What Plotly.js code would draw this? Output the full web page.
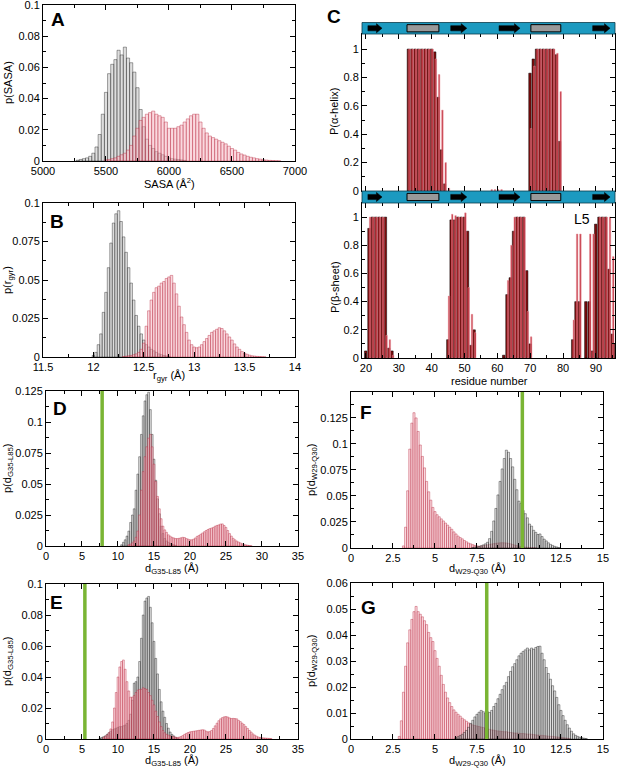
<!DOCTYPE html>
<html><head><meta charset="utf-8">
<script src="https://cdn.plot.ly/plotly-3.0.1.min.js"></script>
<style>html,body{margin:0;padding:0;background:#fff}#g{width:617px;height:769px}</style>
</head><body><div id="g"></div>
<script>
// ---------------- DATA ----------------
// Panel A: SASA histograms (bin start, bin width, probabilities)
const sasaBlackStart = 5275, sasaRedStart = 5500, sasaBin = 25;
const sasaBlack = [0.0005,0.001,0.0015,0.002,0.003,0.005,0.009,0.017,0.03,0.044,0.056,0.062,0.065,0.071,0.068,0.073,0.066,0.063,0.057,0.047,0.033,0.022,0.014,0.01,0.008,0.006,0.005,0.004,0.003,0.002,0.0015,0.0012,0.001,0.0007,0.0004];
const sasaRed = [0.0008,0.001,0.0015,0.002,0.003,0.004,0.005,0.007,0.01,0.016,0.021,0.026,0.028,0.03,0.031,0.032,0.03,0.029,0.028,0.025,0.021,0.021,0.021,0.022,0.023,0.025,0.027,0.029,0.03,0.03,0.025,0.021,0.018,0.016,0.015,0.014,0.013,0.012,0.011,0.0095,0.008,0.007,0.0055,0.0045,0.0038,0.003,0.0024,0.002,0.0015,0.0012,0.0008,0.0006,0.0004,0.0003,0.0002,0.0001];

// Panel B: radius of gyration
const rgBlackStart = 12.0, rgRedStart = 12.3, rgBin = 0.025;
const rgBlack = [0.001,0.003,0.008,0.015,0.029,0.042,0.058,0.074,0.087,0.093,0.095,0.088,0.078,0.068,0.058,0.048,0.037,0.027,0.02,0.015,0.011,0.008,0.0065,0.005,0.004,0.003,0.002,0.0015,0.001,0.0007,0.0004];
const rgRed = [0.0003,0.0005,0.0008,0.001,0.0015,0.002,0.003,0.005,0.009,0.02,0.03,0.037,0.042,0.045,0.046,0.048,0.049,0.051,0.052,0.053,0.048,0.041,0.033,0.026,0.021,0.016,0.011,0.008,0.0065,0.006,0.0065,0.008,0.01,0.012,0.014,0.016,0.017,0.018,0.019,0.0185,0.017,0.015,0.013,0.011,0.0085,0.0065,0.005,0.0035,0.0025,0.0018,0.0012,0.0008,0.0006,0.0004,0.0003,0.0002,0.0001];

// Panel C: secondary structure per residue
const helixResBlack = [33,34,35,36,37,38,39,40,41,42,43,44,70,71,72,73,74,75,76,77,78,79];
const helixBlack    = [1,1,1,1,1,1,1,1,0.98,0.66,0.29,0.05,0.83,0.93,1,1,1,1,1,1,0.96,0.35];
const helixResRed = [33,34,35,36,37,38,39,40,41,42,43,44,45,58,59,60,61,70,71,72,73,74,75,76,77,78,79];
const helixRed    = [1,1,1,1,1,1,1,1,0.93,0.82,0.57,0.2,0.02,0.01,0.01,0.01,0.01,0.44,0.88,1,1,1,1,1,1,0.97,0.7];
const sheetResBlack = [20,21,22,23,24,25,26,27,28,45,46,47,48,49,50,51,52,53,62,63,64,65,66,67,68,69,70,83,84,85,87,88,89,90,91,92,93,94,95,96];
const sheetBlack    = [0.05,0.92,1,1,1,1,1,0.07,0.05,0.13,0.98,0.98,1,1,1,0.9,0.09,0.2,0.02,0.45,0.57,0.9,1,1,1,0.62,0.1,0.13,0.4,0.4,0.4,0.4,0.05,0.95,1,1,1,0.63,0.17,0.1];
const sheetResRed = [21,22,23,24,25,26,27,28,45,46,47,48,49,50,51,52,53,63,64,65,66,67,68,69,70,83,84,85,88,89,91,92,93,94,95,96];
const sheetRed    = [1,1,1,1,1,0.16,0.13,0.02,0.44,1.02,1.01,1,1,1.03,0.5,0.31,0.18,0.55,0.8,1,1,1,1,0.33,0.15,0.27,0.88,0.88,0.88,0.88,1,1,1,1,0.72,0.6];
const strands = [[20.6,24.9],[45.8,50.7],[60.5,66.9],[89.0,94.3]];
const helices = [[32.5,42.2],[70.2,79.3]];

// Panel D: d(G35-L85)
const dDBlackStart = 10.5, dDRedStart = 11.5, dBin = 0.25;
const dDBlack = [0.001,0.003,0.005,0.008,0.012,0.019,0.025,0.03,0.045,0.058,0.072,0.09,0.105,0.117,0.122,0.124,0.11,0.09,0.07,0.053,0.038,0.026,0.016,0.01,0.006,0.004,0.003,0.002,0.0015,0.001,0.0005];
const dDRed = [0.001,0.0015,0.0025,0.004,0.007,0.012,0.025,0.045,0.06,0.072,0.08,0.087,0.09,0.08,0.066,0.052,0.04,0.03,0.022,0.016,0.013,0.011,0.009,0.008,0.007,0.0065,0.006,0.006,0.0062,0.0066,0.007,0.0068,0.006,0.0055,0.005,0.005,0.0055,0.0065,0.0078,0.0085,0.0095,0.0105,0.0115,0.0125,0.0133,0.014,0.0145,0.015,0.016,0.0166,0.017,0.0177,0.0178,0.0165,0.015,0.0125,0.01,0.008,0.0062,0.005,0.004,0.0032,0.0025,0.0018,0.0013,0.0009,0.0006,0.0004,0.0002];
const dDRef = 7.8;

// Panel E: d(G35-L85)
const dEBlackStart = 7.5, dERedStart = 8.0;
const dEBlack = [0.0005,0.001,0.0015,0.002,0.003,0.004,0.005,0.006,0.0065,0.007,0.0075,0.008,0.008,0.0085,0.009,0.01,0.012,0.016,0.025,0.036,0.037,0.04,0.05,0.065,0.08,0.089,0.091,0.092,0.085,0.075,0.063,0.052,0.042,0.032,0.024,0.018,0.014,0.01,0.007,0.0045,0.003,0.002,0.001,0.0005];
const dERed = [0.001,0.0018,0.0026,0.004,0.0065,0.011,0.02,0.03,0.04,0.0465,0.05,0.051,0.045,0.037,0.031,0.027,0.027,0.028,0.03,0.0315,0.032,0.032,0.033,0.0325,0.032,0.03,0.028,0.025,0.022,0.018,0.0145,0.011,0.008,0.0055,0.004,0.003,0.0025,0.002,0.0017,0.0015,0.0012,0.001,0.0012,0.0016,0.0022,0.003,0.0036,0.0042,0.0046,0.0048,0.005,0.0052,0.0054,0.0056,0.0058,0.006,0.0058,0.005,0.0046,0.0048,0.0055,0.0068,0.0085,0.0102,0.0118,0.013,0.0138,0.0143,0.0145,0.0142,0.0136,0.0132,0.0133,0.0132,0.013,0.012,0.0112,0.0102,0.0093,0.008,0.0068,0.0055,0.0045,0.0033,0.0025,0.0018,0.0013,0.001,0.0008,0.0007,0.0006,0.0005,0.0004,0.0003];
const dERef = 5.4;

// Panel F: d(W29-Q30)
const wBin = 0.125;
const dFRedStart = 3.125, dFBlackStart = 7.25;
const dFRed = [0.002,0.02,0.055,0.095,0.12,0.13,0.125,0.112,0.099,0.088,0.077,0.064,0.054,0.046,0.039,0.035,0.032,0.03,0.028,0.026,0.024,0.022,0.02,0.018,0.0155,0.0135,0.0115,0.01,0.0088,0.0072,0.006,0.0048,0.004,0.0032,0.0025,0.002,0.0017,0.0018,0.0022,0.0026,0.003,0.0034,0.0038,0.0042,0.0045,0.0048,0.005,0.0051,0.005,0.0048,0.0045,0.004,0.0034,0.0028,0.0023,0.0018,0.0014,0.0011,0.0009,0.0007,0.0005,0.0004,0.0003,0.0002];
const dFBlack = [0.0005,0.0008,0.001,0.0015,0.0022,0.003,0.004,0.0055,0.009,0.016,0.026,0.038,0.051,0.064,0.076,0.086,0.094,0.092,0.086,0.078,0.066,0.056,0.045,0.043,0.036,0.033,0.029,0.023,0.021,0.017,0.015,0.013,0.0135,0.011,0.0085,0.0068,0.005,0.0035,0.0025,0.0016,0.001,0.0005];
const dFRef = 10.2;

// Panel G: d(W29-Q30)
const dGRedStart = 2.875, dGBlackStart = 6.25;
const dGRed = [0.001,0.007,0.018,0.028,0.037,0.042,0.046,0.049,0.051,0.049,0.048,0.047,0.0455,0.044,0.041,0.039,0.0375,0.034,0.031,0.028,0.0245,0.021,0.018,0.0158,0.014,0.0125,0.0112,0.0103,0.0095,0.0088,0.008,0.0074,0.0068,0.0062,0.0057,0.0054,0.0052,0.005,0.0048,0.0046,0.0044,0.0041,0.0039,0.0037,0.0035,0.0034,0.0032,0.0031,0.003,0.0029,0.0028,0.0028,0.0026,0.0025,0.0024,0.0023,0.0023,0.0022,0.0021,0.0021,0.002,0.0019,0.0019,0.0018,0.0017,0.0016,0.0015,0.0014,0.0014,0.0013,0.0012,0.0011,0.001,0.001,0.0009,0.0008,0.0007,0.0006,0.0005,0.0004,0.0003,0.0002];
const dGBlack = [0.0005,0.0009,0.0013,0.0018,0.0025,0.0033,0.0045,0.006,0.0072,0.0085,0.0095,0.0103,0.011,0.0105,0.0099,0.0105,0.0102,0.011,0.0125,0.0137,0.0155,0.0172,0.019,0.0205,0.0218,0.024,0.026,0.0278,0.029,0.0305,0.032,0.033,0.0337,0.0343,0.035,0.0343,0.035,0.0345,0.0352,0.0356,0.0357,0.033,0.0305,0.0275,0.0252,0.023,0.0205,0.0185,0.016,0.0132,0.011,0.009,0.0072,0.0055,0.0042,0.003,0.002,0.0014,0.001,0.0007,0.0005,0.0003,0.0002];
const dGRef = 8.08;

// ---------------- STYLE / LAYOUT ----------------
const W = 617, H = 769;
const FONT = 'Arial, "Liberation Sans", Helvetica, sans-serif';
const xd = (a, b) => [a / W, b / W];
const yd = (top, bot) => [1 - bot / H, 1 - top / H];
const px = v => v / W, py = v => 1 - v / H;

const GRAY_FILL = 'rgba(190,190,190,0.5)', BLACK = 'rgba(0,0,0,0.8)';
const PINK_FILL = 'rgba(246,180,192,0.5)', RED = 'rgba(184,36,60,0.9)';

function hist(start, step, vals, xa, ya, isRed) {
  return {type: 'bar', x0: start, dx: step, y: vals, xaxis: xa, yaxis: ya,
    marker: {color: isRed ? PINK_FILL : GRAY_FILL, line: {color: isRed ? RED : BLACK, width: 0.45}},
    hoverinfo: 'skip'};
}
function resBars(res, vals, xa, ya, isRed) {
  return {type: 'bar', x: res, y: vals, xaxis: xa, yaxis: ya,
    width: isRed ? 0.45 : 0.75, offset: isRed ? 0.05 : -0.45,
    marker: {color: isRed ? 'rgba(190,35,50,0.9)' : '#7d0a0a',
             line: {color: isRed ? '#e8909a' : '#000', width: 0.5}},
    hoverinfo: 'skip'};
}

const data = [
  hist(sasaBlackStart, sasaBin, sasaBlack, 'x', 'y', false),
  hist(sasaRedStart, sasaBin, sasaRed, 'x', 'y', true),
  hist(rgBlackStart, rgBin, rgBlack, 'x2', 'y2', false),
  hist(rgRedStart, rgBin, rgRed, 'x2', 'y2', true),
  resBars(helixResBlack, helixBlack, 'x3', 'y3', false),
  resBars(helixResRed, helixRed, 'x3', 'y3', true),
  resBars(sheetResBlack, sheetBlack, 'x4', 'y4', false),
  resBars(sheetResRed, sheetRed, 'x4', 'y4', true),
  hist(dDBlackStart, dBin, dDBlack, 'x5', 'y5', false),
  hist(dDRedStart, dBin, dDRed, 'x5', 'y5', true),
  hist(dEBlackStart, dBin, dEBlack, 'x6', 'y6', false),
  hist(dERedStart, dBin, dERed, 'x6', 'y6', true),
  hist(dFRedStart, wBin, dFRed, 'x7', 'y7', true),
  hist(dFBlackStart, wBin, dFBlack, 'x7', 'y7', false),
  hist(dGRedStart, wBin, dGRed, 'x8', 'y8', true),
  hist(dGBlackStart, wBin, dGBlack, 'x8', 'y8', false)
];

function ax(o) {
  const base = {showline: true, linecolor: '#000', linewidth: 1, mirror: 'allticks',
    ticks: 'inside', ticklen: 5, tickwidth: 1, tickcolor: '#000',
    showgrid: false, zeroline: false, fixedrange: true, ticklabeloverflow: 'allow',
    tickfont: {family: FONT, size: 11, color: '#000'}};
  const r = Object.assign(base, o);
  if (o.mdt) { r.minor = {ticks: 'inside', ticklen: 3, tickwidth: 1, tickcolor: '#000', dtick: o.mdt, showgrid: false}; delete r.mdt; }
  return r;
}

const layout = {
  width: W, height: H, margin: {l: 0, r: 0, t: 0, b: 0},
  paper_bgcolor: '#fff', plot_bgcolor: '#fff', showlegend: false,
  barmode: 'overlay', bargap: 0,
  xaxis:  ax({domain: xd(43, 295), range: [5000, 7000.5], dtick: 500, tick0: 5000, mdt: 250, anchor: 'y'}),
  yaxis:  ax({domain: yd(5, 161), range: [0, 0.10002], dtick: 0.02, mdt: 0.01, anchor: 'x'}),
  xaxis2: ax({domain: xd(43, 295), range: [11.5, 14.0005], dtick: 0.5, tick0: 11.5, mdt: 0.25, anchor: 'y2'}),
  yaxis2: ax({domain: yd(203, 357), range: [0, 0.10002], dtick: 0.025, mdt: 0.0125, anchor: 'x2'}),
  xaxis3: ax({domain: xd(362, 615), range: [18.8, 95.8], dtick: 10, tick0: 0, mdt: 5, showticklabels: false, anchor: 'y3'}),
  yaxis3: ax({domain: yd(34, 191), range: [0, 1.106], dtick: 0.2, mdt: 0.1, anchor: 'x3'}),
  xaxis4: ax({domain: xd(362, 615), range: [18.8, 95.8], dtick: 10, tick0: 0, mdt: 5, anchor: 'y4'}),
  yaxis4: ax({domain: yd(203, 358), range: [0, 1.1], dtick: 0.2, mdt: 0.1, anchor: 'x4'}),
  xaxis5: ax({domain: xd(46, 298), range: [0, 35.005], dtick: 5, mdt: 2.5, anchor: 'y5'}),
  yaxis5: ax({domain: yd(391, 546), range: [0, 0.12502], dtick: 0.025, mdt: 0.0125, anchor: 'x5'}),
  xaxis6: ax({domain: xd(46, 298), range: [0, 35.005], dtick: 5, mdt: 2.5, anchor: 'y6'}),
  yaxis6: ax({domain: yd(584, 739), range: [0, 0.10002], dtick: 0.02, mdt: 0.01, anchor: 'x6'}),
  xaxis7: ax({domain: xd(351, 603), range: [0, 15.002], dtick: 2.5, mdt: 1.25, anchor: 'y7'}),
  yaxis7: ax({domain: yd(392, 548), range: [0, 0.1499], dtick: 0.025, mdt: 0.0125, anchor: 'x7'}),
  xaxis8: ax({domain: xd(351, 603), range: [0, 15.002], dtick: 2.5, mdt: 1.25, anchor: 'y8'}),
  yaxis8: ax({domain: yd(583, 739), range: [0, 0.060012], dtick: 0.01, mdt: 0.005, anchor: 'x8'}),
  shapes: [], annotations: []
};

// reference lines (green)
const GREEN = '#7ab534';
[[dDRef, 'x5', 'y5'], [dERef, 'x6', 'y6'], [dFRef, 'x7', 'y7'], [dGRef, 'x8', 'y8']].forEach(([v, xa, ya]) => {
  layout.shapes.push({type: 'line', xref: xa, yref: ya + ' domain', x0: v, x1: v, y0: 0, y1: 1,
    line: {color: GREEN, width: 3.5}});
});

// secondary-structure bands in panel C
[['x3', 22.5, 34], ['x4', 191, 203]].forEach(([xa, top, bot]) => {
  layout.shapes.push({type: 'rect', xref: 'paper', yref: 'paper', x0: px(362), x1: px(615), y0: py(bot), y1: py(top),
    fillcolor: '#1c9ac0', line: {color: '#0b3b4a', width: 0.8}, layer: 'above'});
  const c = (top + bot) / 2;
  strands.forEach(([a, b]) => {
    const h = b - 1.7;
    const path = `M ${a},${py(c - 2.6)} L ${h},${py(c - 2.6)} L ${h},${py(c - 4.6)} L ${b},${py(c)} L ${h},${py(c + 4.6)} L ${h},${py(c + 2.6)} L ${a},${py(c + 2.6)} Z`;
    layout.shapes.push({type: 'path', xref: xa, yref: 'paper', path: path, fillcolor: '#000', line: {color: '#000', width: 0.5}, layer: 'above'});
  });
  helices.forEach(([a, b]) => {
    layout.shapes.push({type: 'rect', xref: xa, yref: 'paper', x0: a, x1: b, y0: py(c + 3.6), y1: py(c - 3.6),
      fillcolor: '#999', line: {color: '#000', width: 1}, layer: 'above'});
  });
});

function ann(text, x, y, o) {
  layout.annotations.push(Object.assign({text: text, xref: 'paper', yref: 'paper', x: px(x), y: py(y),
    xanchor: 'center', yanchor: 'middle', showarrow: false,
    font: {family: FONT, size: 11, color: '#000'}}, o || {}));
}
const bold = {font: {family: FONT, size: 19, color: '#000', weight: 'bold'}};
ann('<b>A</b>', 58, 19, bold);
ann('<b>B</b>', 57, 222, bold);
ann('<b>C</b>', 334, 17, bold);
ann('<b>D</b>', 60, 408, bold);
ann('<b>E</b>', 56, 602, bold);
ann('<b>F</b>', 366, 412, bold);
ann('<b>G</b>', 368, 607, bold);
ann('L5', 582, 219, {font: {family: FONT, size: 14, color: '#000'}});

const rot = {textangle: -90};
ann('SASA (Å<sup>2</sup>)', 169, 183);
ann('p(SASA)', 8, 83, rot);
ann('r<sub>gyr</sub> (Å)', 169, 376);
ann('p(r<sub>gyr</sub>)', 8, 280, rot);
ann('P(α-helix)', 334, 112, rot);
ann('P(β-sheet)', 335, 287, rot);
ann('residue number', 489, 381);
ann('d<sub>G35-L85</sub> (Å)', 172, 569);
ann('p(d<sub>G35-L85</sub>)', 8, 468, rot);
ann('d<sub>G35-L85</sub> (Å)', 172, 761);
ann('p(d<sub>G35-L85</sub>)', 8, 661, rot);
ann('d<sub>W29-Q30</sub> (Å)', 477, 569);
ann('p(d<sub>W29-Q30</sub>)', 312, 470, rot);
ann('d<sub>W29-Q30</sub> (Å)', 477, 761);
ann('p(d<sub>W29-Q30</sub>)', 312, 661, rot);

Plotly.newPlot('g', data, layout, {staticPlot: true, displayModeBar: false});
</script></body></html>
